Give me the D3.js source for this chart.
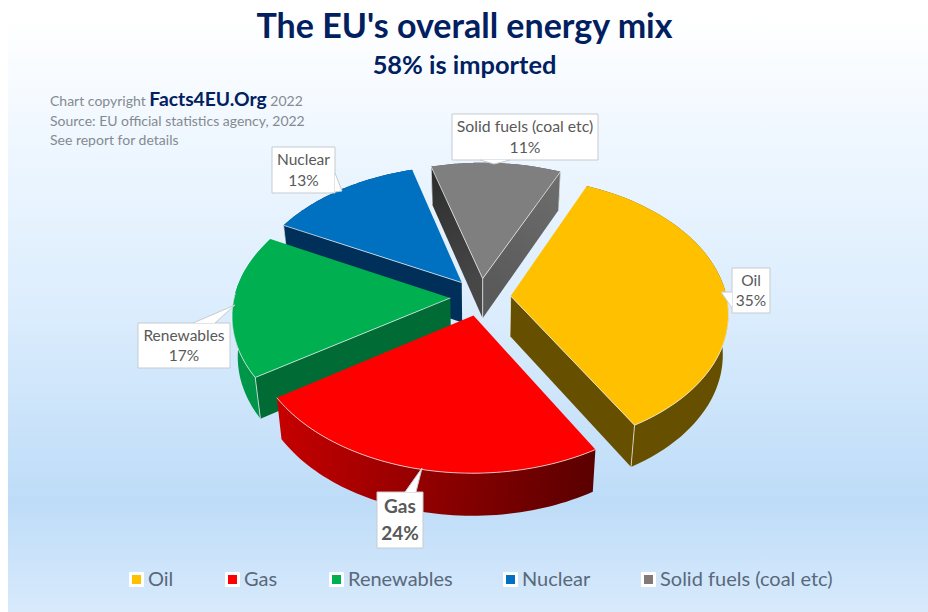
<!DOCTYPE html>
<html>
<head>
<meta charset="utf-8">
<script src="https://cdn.jsdelivr.net/npm/d3@7"></script>
<style>
html,body{margin:0;padding:0;background:#fff}
svg{display:block}
text{font-family:Lato,"Noto Sans",sans-serif}
</style>
</head>
<body>
<svg id="chart" width="928" height="612"></svg>
<script>
// Energy sources and their share of the EU mix, in percent
const categories = ["Oil", "Gas", "Renewables", "Nuclear", "Solid fuels (coal etc)"];
const shares = [35, 24, 17, 13, 11];
const topColors = ["#FFC000", "#FF0000", "#00B050", "#0070C0", "#7F7F7F"];
const legendOffsets = [129, 225, 329, 503, 641];

// Callout boxes, one per category: box edges, pointer tip and pointer base
const callouts = [
  {box:[732,268,770,313], tip:[721,292], base:[[732,292],[732,308]], size:15.5, weight:400},
  {box:[377,492,423,548], tip:[422,468], base:[[405,492],[416,492]], size:19, weight:700},
  {box:[138,323,230,368], tip:[235,305], base:[[193,323],[215,323]], size:15.5, weight:400},
  {box:[272,147,335,193], tip:[342,191], base:[[335,173],[335,192]], size:15.5, weight:400},
  {box:[452,114,598,160], tip:[494,164], base:[[480,160],[510,160]], size:15.8, weight:400}
];

const svg = d3.select("#chart");
const defs = svg.append("defs");

// Page background: white into pale blue, easing lighter again at the foot
const bg = defs.append("linearGradient").attr("id","bg").attr("x1",0).attr("y1",0).attr("x2",0).attr("y2",1);
[[0.03,"#ffffff"],[0.2,"#f1f8ff"],[0.5,"#dcedfd"],[0.82,"#bedcf8"],[1,"#d8eafc"]]
  .forEach(([o,c]) => bg.append("stop").attr("offset",o).attr("stop-color",c));
svg.append("rect").attr("x",8).attr("y",0).attr("width",920).attr("height",612).attr("fill","url(#bg)");

// Tilted-disc projection with mild perspective
const R = 216, cx = 480.5, cy = 297, squash = 0.62, persp = 0.12;
const explode = 0.14, thickness = 40, sink = 0.977;
const rimSteps = 60;

const arcsGen = d3.pie().sort(null).value(d => d)
  .startAngle(24 * Math.PI / 180).endAngle((360 + 24) * Math.PI / 180);
const slices = arcsGen(shares).map((s, i) => ({...s, i, mid:(s.startAngle + s.endAngle) / 2}));

function project(slice, r, a, lower) {
  const X = r * Math.sin(a) + explode * Math.sin(slice.mid);
  const Y = r * Math.cos(a) + explode * Math.cos(slice.mid);
  const s = 1 / (1 + persp * Y);
  let x = cx + R * X * s;
  let y = cy - R * squash * Y * s;
  if (lower) {
    x = cx + (x - cx) * sink;
    y += thickness * (1 + (s - 1) * 0.4);
  }
  return [x, y];
}
const rimAngles = s => d3.range(rimSteps + 1).map(k => s.startAngle + (s.endAngle - s.startAngle) * k / rimSteps);
const line = d3.line();

function gradient(id, p0, p1, c0, c1) {
  const g = defs.append("linearGradient").attr("id", id).attr("gradientUnits","userSpaceOnUse")
    .attr("x1",p0[0]).attr("y1",p0[1]).attr("x2",p1[0]).attr("y2",p1[1]);
  g.append("stop").attr("offset",0).attr("stop-color",c0);
  g.append("stop").attr("offset",1).attr("stop-color",c1);
  return `url(#${id})`;
}

// Wall shades: rim / wall at the slice's start edge / wall at its end edge
const [oil, gas, ren, nuc, sol] = slices;
const shades = [
  {rim:"#665000", endWall:"#665000"},
  {rim:gradient("gasRim", project(gas,1,gas.endAngle,true), project(gas,1,gas.startAngle,true), "#c40000", "#5a0000")},
  {rim:"#00964A", startWall:"#006B35"},
  {rim:"#00305A", startWall:"#00305A"},
  {rim:"#555555",
   startWall:gradient("solidL", project(sol,1,sol.startAngle,false), project(sol,0,0,false), "#2c2c2c", "#474747"),
   endWall:gradient("solidR", project(sol,1,sol.endAngle,false), project(sol,0,0,false), "#6e6e6e", "#5a5a5a")}
];

// Back slices go first so the nearer ones overlap them
const order = [4, 3, 2, 0, 1];
const edge = "rgba(235,240,240,0.75)";
const pie = svg.append("g");

order.forEach(i => {
  const s = slices[i], sh = shades[i], g = pie.append("g");
  const angles = rimAngles(s);
  const top = angles.map(a => project(s,1,a,false));
  const low = angles.map(a => project(s,1,a,true));
  const apexT = project(s,0,0,false), apexB = project(s,0,0,true);

  g.append("path").attr("d", line([...top, ...low.slice().reverse()]) + "Z").attr("fill", sh.rim);
  if (sh.startWall) g.append("path").attr("d", line([apexT, top[0], low[0], apexB]) + "Z").attr("fill", sh.startWall);
  if (sh.endWall) g.append("path").attr("d", line([apexT, top[rimSteps], low[rimSteps], apexB]) + "Z").attr("fill", sh.endWall);

  g.append("path").attr("d", line([apexT, ...top]) + "Z").attr("fill", topColors[i]);

  // Pale highlight on the edges that border a visible wall
  const hi = (pts) => g.append("path").attr("d", line(pts)).attr("fill","none").attr("stroke",edge).attr("stroke-width",1);
  if (sh.startWall) { hi([apexT, top[0]]); hi([top[0], low[0]]); }
  if (sh.endWall) { hi([apexT, top[rimSteps]]); hi([top[rimSteps], low[rimSteps]]); hi([apexT, apexB]); }
  const frontRim = top.filter((p, k) => Math.cos(angles[k]) < 0.05);
  if (frontRim.length > 1) hi(frontRim);
});

// Callouts with a pointer toward their slice
const label = svg.append("g").selectAll("g").data(callouts).join("g");
label.append("path")
  .attr("d", d => { const [x0,y0,x1,y1] = d.box; return line([[x0,y0],[x1,y0],[x1,y1],[x0,y1]]) + "Z"; })
  .attr("fill","#fff").attr("stroke","#c5cbd0").attr("stroke-width",1);
label.append("path")
  .attr("d", d => line([d.base[0], d.tip, d.base[1]]) + "Z")
  .attr("fill","#fff");
label.append("path")
  .attr("d", d => line([d.base[0], d.tip, d.base[1]]))
  .attr("fill","none").attr("stroke","#c5cbd0").attr("stroke-width",1);
label.each(function(d, i) {
  const g = d3.select(this);
  const mx = (d.box[0] + d.box[2]) / 2, my = (d.box[1] + d.box[3]) / 2;
  const step = d.size * (d.weight === 700 ? 1.42 : 1.33);
  [categories[i], shares[i] + "%"].forEach((t, k) => {
    g.append("text").attr("x", mx).attr("y", my + (k - 0.5) * step + d.size * 0.36)
      .attr("text-anchor","middle").attr("font-size", d.size).attr("font-weight", d.weight)
      .attr("fill","#595959").text(t);
  });
});

// Legend
const legend = svg.append("g").selectAll("g").data(categories).join("g")
  .attr("transform", (d, i) => `translate(${legendOffsets[i]},572)`);
legend.append("rect").attr("width",15).attr("height",15).attr("rx",1).attr("fill","#fff");
legend.append("rect").attr("x",3).attr("y",3).attr("width",9).attr("height",9)
  .attr("fill",(d,i) => i === 4 ? "#827A78" : topColors[i]);
legend.append("text").attr("x",19).attr("y",14).attr("font-size",20).attr("fill","#59697a").text(d => d);

// Headings
svg.append("text").attr("x",464.5).attr("y",38).attr("text-anchor","middle")
  .attr("font-size",34).attr("font-weight",700).attr("fill","#002060").text("The EU's overall energy mix");
svg.append("text").attr("x",464.5).attr("y",74).attr("text-anchor","middle")
  .attr("font-size",25.4).attr("font-weight",700).attr("fill","#002060").text("58% is imported");

// Attribution block
const note = svg.append("g").attr("fill","#858a90").attr("font-size",14);
const line1 = note.append("text").attr("x",50).attr("y",106);
line1.append("tspan").text("Chart copyright ");
line1.append("tspan").attr("font-size",19.3).attr("font-weight",700).attr("fill","#002060").text("Facts4EU.Org");
line1.append("tspan").text(" 2022");
note.append("text").attr("x",50).attr("y",126).text("Source: EU official statistics agency, 2022");
note.append("text").attr("x",50).attr("y",145).text("See report for details");
</script>
</body>
</html>
